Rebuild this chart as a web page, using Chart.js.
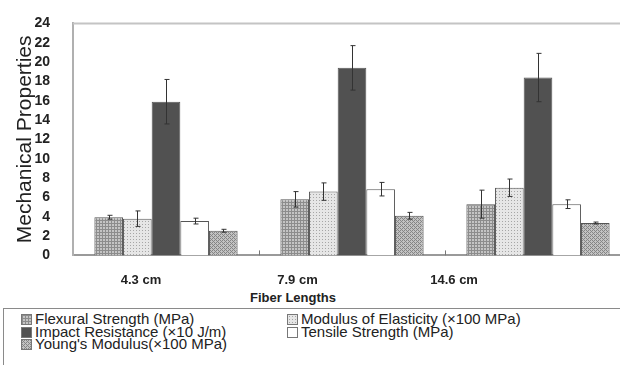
<!DOCTYPE html>
<html>
<head>
<meta charset="utf-8">
<script src="https://cdn.jsdelivr.net/npm/chart.js@4.4.1/dist/chart.umd.min.js"></script>
<style>
  html, body { margin: 0; padding: 0; background: #fff; overflow: hidden; }
  body { width: 620px; height: 365px; position: relative; font-family: "Liberation Sans", Arial, sans-serif; }
  #wrap { position: absolute; left: 0; top: -8px; width: 640px; height: 297px; }
  #xtitle { position: absolute; top: 290px; left: 293px; transform: translateX(-50%);
    font: bold 13px "Liberation Sans", Arial, sans-serif; color: #222; white-space: nowrap; }
  #legend { position: absolute; left: 3px; top: 308px; width: 660px; height: 80px;
    border: 1px solid #8a8a8a; box-sizing: border-box; }
  .item { position: absolute; font: 15px "Liberation Sans", Arial, sans-serif; color: #222;
    white-space: nowrap; line-height: 13px; }
  .sw { display: inline-block; width: 9px; height: 9px; border: 1px solid #777; margin-right: 3px;
    vertical-align: -1px; }
</style>
</head>
<body>
<div id="wrap"><canvas id="chart"></canvas></div>
<div id="xtitle">Fiber Lengths</div>
<div id="legend"></div>
<script>
// data
const categories = ["4.3 cm", "7.9 cm", "14.6 cm"]
const seriesNames = [
  "Flexural Strength (MPa)",
  "Modulus of Elasticity (\u00d7100 MPa)",
  "Impact Resistance (\u00d710 J/m)",
  "Tensile Strength (MPa)",
  "Young's Modulus(\u00d7100 MPa)"
]
const flexural = [3.95, 5.8, 5.3]
const flexuralErr = [0.2, 0.8, 1.45]
const modulus = [3.8, 6.6, 7.0]
const modulusErr = [0.8, 0.9, 0.9]
const impact = [15.9, 19.4, 18.4]
const impactErr = [2.3, 2.3, 2.5]
const tensile = [3.55, 6.85, 5.3]
const tensileErr = [0.3, 0.7, 0.45]
const young = [2.55, 4.1, 3.35]
const youngErr = [0.15, 0.35, 0.1]
const yTicks = [0, 2, 4, 6, 8, 10, 12, 14, 16, 18, 20, 22, 24]

// fill textures
function makePattern(kind) {
  const c = document.createElement("canvas")
  const ctx = c.getContext("2d")
  if (kind == "grid") {
    c.width = 3; c.height = 3
    ctx.fillStyle = "#c4c4c4"; ctx.fillRect(0, 0, 3, 3)
    ctx.fillStyle = "#8c8c8c"; ctx.fillRect(0, 0, 3, 1); ctx.fillRect(0, 0, 1, 3)
  } else if (kind == "dots") {
    c.width = 3; c.height = 3
    ctx.fillStyle = "#e6e6e6"; ctx.fillRect(0, 0, 3, 3)
    ctx.fillStyle = "#a6a6a6"; ctx.fillRect(1, 1, 1, 1)
  } else if (kind == "checker") {
    c.width = 4; c.height = 4
    ctx.fillStyle = "#c2c2c2"; ctx.fillRect(0, 0, 4, 4)
    ctx.fillStyle = "#858585"
    ctx.fillRect(0, 0, 1, 1); ctx.fillRect(2, 2, 1, 1); ctx.fillRect(1, 1, 1, 1); ctx.fillRect(3, 3, 1, 1)
    ctx.fillRect(2, 0, 1, 1); ctx.fillRect(0, 2, 1, 1)
  }
  return c
}
const tiles = [makePattern("grid"), makePattern("dots"), null, null, makePattern("checker")]
const ctx = document.getElementById("chart").getContext("2d")
const fills = [
  ctx.createPattern(tiles[0], "repeat"),
  ctx.createPattern(tiles[1], "repeat"),
  "#515151",
  "#ffffff",
  ctx.createPattern(tiles[4], "repeat")
]
const values = [flexural, modulus, impact, tensile, young]
const errors = [flexuralErr, modulusErr, impactErr, tensileErr, youngErr]

const datasets = seriesNames.map(function(name, i) {
  return {
    label: name,
    data: values[i],
    errors: errors[i],
    backgroundColor: fills[i],
    borderColor: "#555",
    borderWidth: 1,
    categoryPercentage: 0.77,
    barPercentage: 1.0
  }
})

// error bars, frame and small category ticks
const extras = {
  id: "extras",
  afterDatasetsDraw(chart) {
    const c = chart.ctx
    const y = chart.scales.y
    const a = chart.chartArea
    c.save()
    c.strokeStyle = "#333"
    c.lineWidth = 1
    chart.data.datasets.forEach(function(ds, i) {
      chart.getDatasetMeta(i).data.forEach(function(bar, j) {
        const v = ds.data[j], e = ds.errors[j]
        const top = y.getPixelForValue(v + e), bot = y.getPixelForValue(v - e)
        const x = Math.round(bar.x) + 0.5
        c.beginPath()
        c.moveTo(x, top); c.lineTo(x, bot)
        c.moveTo(x - 2, top); c.lineTo(x + 3, top)
        c.moveTo(x - 2, bot); c.lineTo(x + 3, bot)
        c.stroke()
      })
    })
    c.strokeStyle = "#c4c4c4"
    c.lineWidth = 2
    c.beginPath()
    c.moveTo(a.left, a.top); c.lineTo(a.right, a.top)
    c.stroke()
    const w = (a.right - a.left) / categories.length
    c.strokeStyle = "#777"
    c.lineWidth = 1
    for (let k = 1; k < categories.length; k++) {
      const px = Math.round(a.left + k * w) + 0.5
      c.beginPath(); c.moveTo(px, a.bottom); c.lineTo(px, a.bottom - 5); c.stroke()
    }
    c.restore()
  }
}

// the label axis sits a little left of the bars in the original figure
const labelMin = -0.434
const labelMax = 3.13

new Chart(ctx, {
  type: "bar",
  data: { labels: categories, datasets: datasets },
  options: {
    responsive: true,
    maintainAspectRatio: false,
    animation: false,
    layout: { padding: { top: 14, right: 9, left: 0, bottom: 0 } },
    plugins: { legend: { display: false }, tooltip: { enabled: false } },
    scales: {
      x: {
        grid: { display: false },
        border: { display: true, color: "#9a9a9a", width: 2 },
        ticks: { display: false }
      },
      x2: {
        type: "linear",
        position: "bottom",
        offset: false,
        min: labelMin,
        max: labelMax,
        grid: { display: false, offset: false },
        border: { display: false },
        afterBuildTicks(scale) {
          scale.ticks = categories.map(function(c, i) { return { value: i } })
        },
        ticks: {
          padding: 1,
          autoSkip: false,
          maxRotation: 0,
          color: "#222",
          font: { family: "'Liberation Sans', Arial, sans-serif", size: 13, weight: "bold" },
          callback: function(v) { return categories[v] }
        }
      },
      y: {
        min: 0,
        max: 24,
        afterBuildTicks(scale) {
          scale.ticks = yTicks.map(function(v) { return { value: v } })
        },
        afterFit(scale) { scale.width = 73 },
        grid: { display: false, drawTicks: false },
        border: { display: true, color: "#b0b0b0", width: 2 },
        ticks: {
          padding: 23,
          autoSkip: false,
          color: "#222",
          font: { family: "'Liberation Sans', Arial, sans-serif", size: 14, weight: "bold" }
        },
        title: {
          display: true,
          text: "Mechanical Properties",
          color: "#222",
          padding: { top: 13, bottom: 0 },
          font: { family: "'Liberation Sans', Arial, sans-serif", size: 21 }
        }
      }
    }
  },
  plugins: [extras]
})

// legend box below
const legend = document.getElementById("legend")
const spots = [[17, 3], [283, 3], [17, 16], [283, 16], [17, 28]]
seriesNames.forEach(function(name, i) {
  const d = document.createElement("div")
  d.className = "item"
  d.style.left = spots[i][0] + "px"
  d.style.top = spots[i][1] + "px"
  const s = document.createElement("span")
  s.className = "sw"
  if (tiles[i]) s.style.backgroundImage = "url(" + tiles[i].toDataURL() + ")"
  else s.style.background = fills[i]
  d.appendChild(s)
  d.appendChild(document.createTextNode(name))
  legend.appendChild(d)
})
</script>
</body>
</html>
